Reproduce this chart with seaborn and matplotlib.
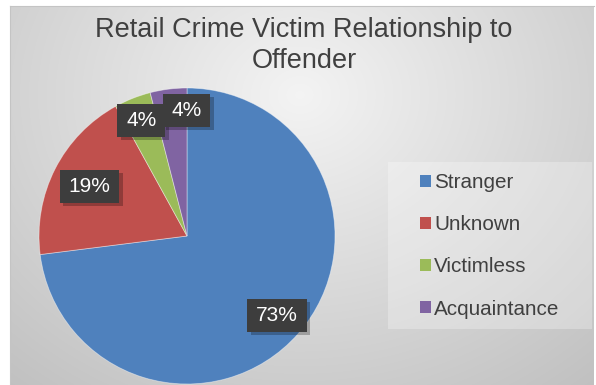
import numpy as np
import matplotlib
matplotlib.use("Agg")
import matplotlib.pyplot as plt
import matplotlib.patheffects as pe
from matplotlib.path import Path
from matplotlib.patches import Patch
import seaborn as sns

# Data
categories = ["Stranger", "Unknown", "Victimless", "Acquaintance"]
shares = [73, 19, 4, 4]
palette_hex = ["#4F81BD", "#C0504D", "#9BBB59", "#8064A2"]

sns.set_theme(style="white")
plt.rcParams["font.family"] = ["Liberation Sans", "DejaVu Sans"]
colors = sns.color_palette(palette_hex)

W, H = 596, 385
fig = plt.figure(figsize=(W / 100, H / 100), dpi=100)
fig.patch.set_facecolor("white")

# Chart area with a soft radial gray gradient
x0px, y0px = 10, 6
bg = fig.add_axes([x0px / W, 0, (W - 2 - x0px) / W, (H - y0px) / H])
xs = np.arange(x0px, W - 2) + 0.5
ys = np.arange(y0px, H) + 0.5
gx, gy = np.meshgrid(xs, ys)
d = np.sqrt(((gx - 300) / 430) ** 2 + ((gy - 95) / 360) ** 2)
d = np.clip(d, 0, 1.15)
v = 0.955 - 0.19 * d
img = np.dstack([v, v, v])
bg.imshow(img, aspect="auto", interpolation="bilinear")
bg.set_xticks([])
bg.set_yticks([])
for side in ["bottom", "right"]:
    bg.spines[side].set_visible(False)
for side in ["top", "left"]:
    bg.spines[side].set_color("#c4c4c4")
    bg.spines[side].set_linewidth(0.8)

# Title
fig.text(304 / W, 1 - 37 / H, "Retail Crime Victim Relationship to",
         ha="center", va="baseline", fontsize=19.5, color="#404040")
fig.text(304 / W, 1 - 68 / H, "Offender",
         ha="center", va="baseline", fontsize=19.5, color="#404040")

# Pie
cx, cy, r = 187, 236, 148
ax = fig.add_axes([(cx - r) / W, (H - cy - r) / H, 2 * r / W, 2 * r / H])
wedges, _ = ax.pie(shares, colors=colors, startangle=90, counterclock=False,
                   radius=1, wedgeprops=dict(linewidth=0.6, edgecolor=(1, 1, 1, 0.45)))
ax.set_xlim(-1, 1)
ax.set_ylim(-1, 1)
ax.axis("off")


def label_box(x0, y0, width, height, mutation_size):
    hx = 0.42 * mutation_size
    hy = 0.34 * mutation_size
    xa, xb = x0 - hx, x0 + width + hx
    ya, yb = y0 - hy, y0 + height + hy
    return Path([(xa, ya), (xb, ya), (xb, yb), (xa, yb), (xa, ya)],
                [Path.MOVETO, Path.LINETO, Path.LINETO, Path.LINETO, Path.CLOSEPOLY])


label_radius = [0.81, 0.74, 0.84, 0.85]
angle_nudge = [0, 0, 0, -7]
total = sum(shares)
for w, val, rr, nud in zip(wedges, shares, label_radius, angle_nudge):
    mid = np.deg2rad((w.theta1 + w.theta2) / 2 + nud)
    t = ax.text(rr * np.cos(mid), rr * np.sin(mid), f"{round(100 * val / total)}%",
                ha="center", va="center", fontsize=15, color="white",
                bbox=dict(boxstyle=label_box, facecolor="#3d3d3d", edgecolor="none"))
    t.get_bbox_patch().set_path_effects([
        pe.SimplePatchShadow(offset=(2.5, -2.5), shadow_rgbFace="black", alpha=0.25),
        pe.Normal()])

# Legend panel
lx0, lx1, ly0, ly1 = 388, 592, 162, 329
panel = fig.add_axes([lx0 / W, (H - ly1) / H, (lx1 - lx0) / W, (ly1 - ly0) / H])
panel.set_facecolor((1, 1, 1, 0.28))
panel.set_xticks([])
panel.set_yticks([])
for s in panel.spines.values():
    s.set_visible(False)

handles = [Patch(facecolor=c, edgecolor="none") for c in colors]
fig.legend(handles, categories, loc="upper left",
           bbox_to_anchor=(420 / W, 1 - 173 / H), frameon=False,
           fontsize=14.9, labelcolor="#404040", handlelength=0.54,
           handleheight=0.54, handletextpad=0.15, labelspacing=1.12,
           borderpad=0, borderaxespad=0)

fig.savefig("out.png", dpi=100)
